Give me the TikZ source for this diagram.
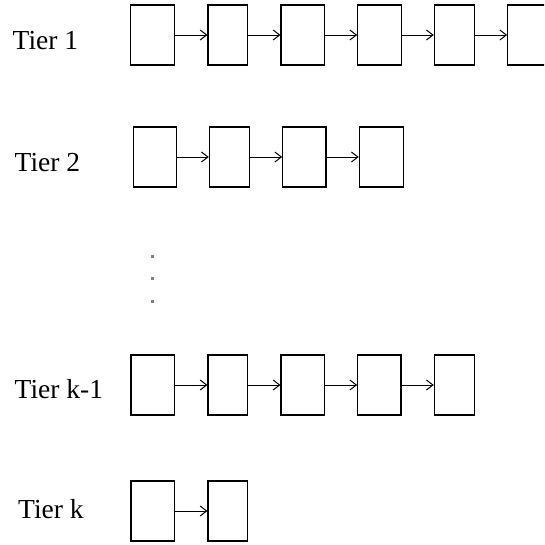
\documentclass[tikz,border=0pt]{standalone}
\usepackage{fontspec}
\setmainfont{Liberation Serif}
\usetikzlibrary{arrows.meta}
\begin{document}
\begin{tikzpicture}[x=1pt,y=-1pt,
  box/.style={draw=black, line width=1.1pt, minimum height=60pt, inner sep=0pt, fill=none},
  link/.style={draw=black, line width=0.9pt, -{Straight Barb[length=6.5pt,width=10pt,line width=1pt]}},
  tier/.style={anchor=base west, inner sep=0pt, font=\fontsize{27.5}{30}\selectfont},
  dot/.style={fill=gray, minimum size=3pt, inner sep=0pt, draw=none}]
\useasboundingbox (0,0) rectangle (544,545);
\clip (0,0) rectangle (544,545);
% Tier 1
\node[tier] (t1) at (12.5,50) {Tier 1};
\node[box, minimum width=43.6pt] (a1) at (152.5,35) {};
\node[box, minimum width=39.7pt] (a2) at (227.85,35) {};
\node[box, minimum width=43.3pt] (a3) at (302.65,35) {};
\node[box, minimum width=44pt] (a4) at (379.7,35) {};
\node[box, minimum width=40pt] (a5) at (454.3,35) {};
\node[box, minimum width=44pt] (a6) at (529.7,35) {};
\draw[link] (a1.east) -- (a2.west);
\draw[link] (a2.east) -- (a3.west);
\draw[link] (a3.east) -- (a4.west);
\draw[link] (a4.east) -- (a5.west);
\draw[link] (a5.east) -- (a6.west);
% Tier 2
\node[tier] (t2) at (14.5,172) {Tier 2};
\node[box, minimum width=43.4pt] (b1) at (155,157) {};
\node[box, minimum width=40pt] (b2) at (229.3,157) {};
\node[box, minimum width=43.3pt] (b3) at (304.35,157) {};
\node[box, minimum width=44pt] (b4) at (381.3,157) {};
\draw[link] (b1.east) -- (b2.west);
\draw[link] (b2.east) -- (b3.west);
\draw[link] (b3.east) -- (b4.west);
% dots
\node[dot] (d1) at (152.3,256.7) {};
\node[dot] (d2) at (152.3,278.3) {};
\node[dot] (d3) at (152.3,301) {};
% Tier k-1
\node[tier] (t3) at (14.5,398) {Tier k-1};
\node[box, minimum width=43.3pt] (c1) at (152.65,385) {};
\node[box, minimum width=39.7pt] (c2) at (227.85,385) {};
\node[box, minimum width=43.3pt] (c3) at (302.65,385) {};
\node[box, minimum width=43.3pt] (c4) at (379.35,385) {};
\node[box, minimum width=40pt] (c5) at (454.3,385) {};
\draw[link] (c1.east) -- (c2.west);
\draw[link] (c2.east) -- (c3.west);
\draw[link] (c3.east) -- (c4.west);
\draw[link] (c4.east) -- (c5.west);
% Tier k
\node[tier] (t4) at (18,518) {Tier k};
\node[box, minimum width=43.3pt] (e1) at (152.65,511) {};
\node[box, minimum width=39.7pt] (e2) at (227.85,511) {};
\draw[link] (e1.east) -- (e2.west);
\end{tikzpicture}
\end{document}
